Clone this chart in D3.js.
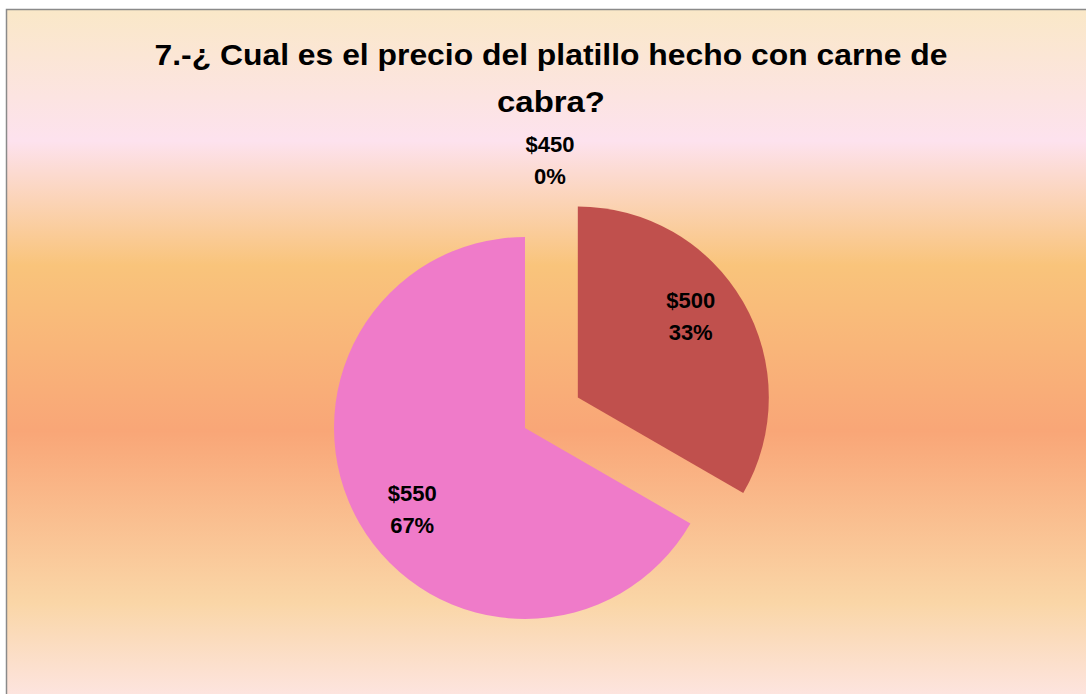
<!DOCTYPE html>
<html>
<head>
<meta charset="utf-8">
<script src="https://cdn.jsdelivr.net/npm/d3@7"></script>
<style>
  html, body { margin: 0; padding: 0; background: #fff; }
  svg { display: block; }
  text { font-family: "Liberation Sans", Arial, sans-serif; font-weight: bold; fill: #000; }
</style>
</head>
<body>
<div id="chart"></div>
<script>
// data
const titleLines = ["7.-\u00bf Cual es el precio del platillo hecho con carne de", "cabra?"];
const categories = ["$450", "$500", "$550"];
const counts = [0, 1, 2];
const sliceColors = ["#4f81bd", "#c0504d", "#ef7bc9"];
const explodedCategory = "$500";

const W = 1086, H = 694;
const svg = d3.select("#chart").append("svg")
  .attr("width", W)
  .attr("height", H);

// background gradient (vertical, sunset-like)
const defs = svg.append("defs");
const grad = defs.append("linearGradient")
  .attr("id", "bg")
  .attr("gradientUnits", "userSpaceOnUse")
  .attr("x1", 0).attr("y1", 10).attr("x2", 0).attr("y2", 700);
[
  [0.00, "#fae8c8"],
  [0.19, "#fde2ee"],
  [0.37, "#f9c47b"],
  [0.61, "#f9a677"],
  [0.86, "#fad6a7"],
  [1.00, "#fde5e2"]
].forEach(s => grad.append("stop").attr("offset", s[0]).attr("stop-color", s[1]));

svg.append("rect")
  .attr("x", 6.5).attr("y", 9.5)
  .attr("width", 1100).attr("height", 700)
  .attr("fill", "url(#bg)")
  .attr("stroke", "#8a8a8a")
  .attr("stroke-width", 1.5);

// title
const title = svg.append("text")
  .attr("text-anchor", "middle")
  .style("font-size", "30px");
title.append("tspan").attr("x", 551).attr("y", 64.5)
  .attr("textLength", 793).attr("lengthAdjust", "spacingAndGlyphs")
  .text(titleLines[0]);
title.append("tspan").attr("x", 551).attr("y", 112)
  .attr("textLength", 108).attr("lengthAdjust", "spacingAndGlyphs")
  .text(titleLines[1]);

// pie
const cx = 525, cy = 428, radius = 191, explode = 61;
const total = d3.sum(counts);
const data = categories.map((c, i) => ({ cat: c, value: counts[i], color: sliceColors[i] }));

const pie = d3.pie().sort(null).value(d => d.value);
const arcs = pie(data);
const arc = d3.arc().innerRadius(0).outerRadius(radius);
const pct = d3.format(".0%");

const g = svg.append("g").attr("transform", `translate(${cx},${cy})`);

function offsetOf(d) {
  if (d.data.cat !== explodedCategory) return [0, 0];
  return d3.pointRadial((d.startAngle + d.endAngle) / 2, explode);
}

g.selectAll("path.slice")
  .data(arcs.filter(d => d.value > 0))
  .enter()
  .append("path")
  .attr("class", "slice")
  .attr("d", arc)
  .attr("fill", d => d.data.color)
  .attr("transform", d => `translate(${offsetOf(d)})`);

// labels
const labelPos = d => {
  const mid = (d.startAngle + d.endAngle) / 2;
  const off = offsetOf(d);
  if (d.value === 0) {
    // empty slice: label sits outside, above the pie
    const p = d3.pointRadial(mid, radius + 77);
    return [p[0] + 25, p[1]];
  }
  const p = d3.pointRadial(mid - 0.1, 139);
  return [p[0] + off[0], p[1] + off[1]];
};

const labels = g.selectAll("text.lbl")
  .data(arcs)
  .enter()
  .append("text")
  .attr("class", "lbl")
  .attr("text-anchor", "middle")
  .style("font-size", "22px");

labels.append("tspan")
  .attr("x", d => labelPos(d)[0])
  .attr("y", d => labelPos(d)[1] - 8)
  .text(d => d.data.cat);
labels.append("tspan")
  .attr("x", d => labelPos(d)[0])
  .attr("y", d => labelPos(d)[1] + 24)
  .text(d => pct(d.value / total));
</script>
</body>
</html>
